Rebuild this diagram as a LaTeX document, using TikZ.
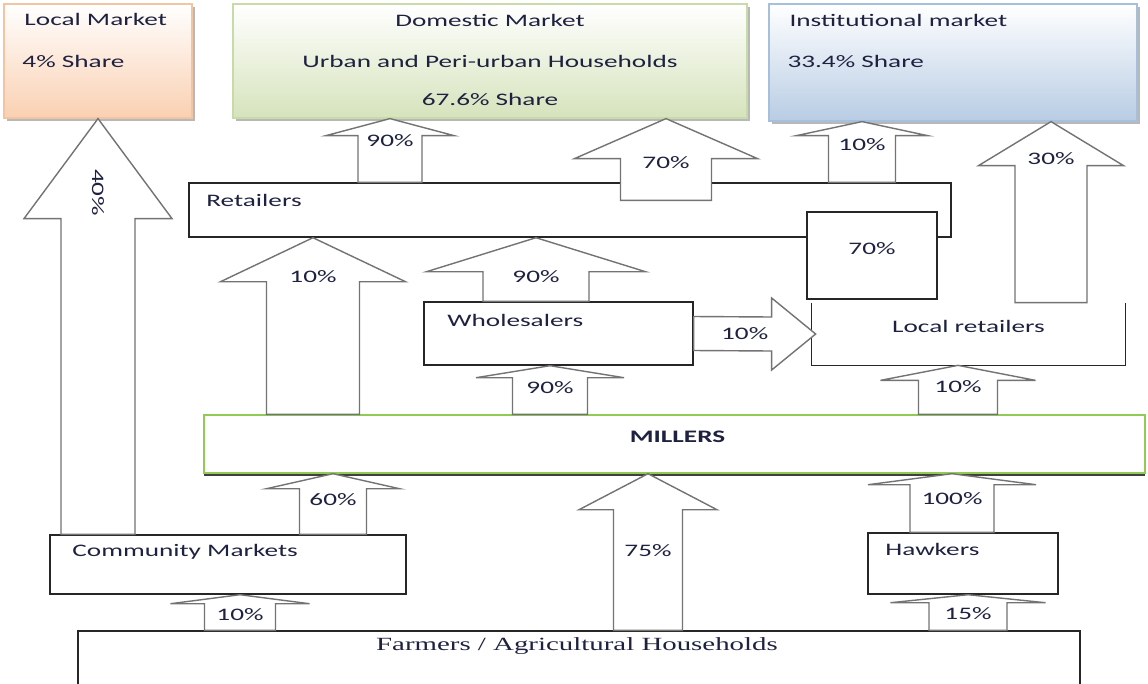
\documentclass[tikz,border=0pt]{standalone}
\usepackage{fontspec}
\setmainfont{Carlito}[FakeStretch=1.55]
\newfontfamily\farmfont{Liberation Serif}[FakeStretch=1.55]
\usepackage{xcolor}
\usepackage{graphicx}
\definecolor{TextNavy}{HTML}{1E2240}
\definecolor{LocalPeach}{HTML}{FAD0B2}
\definecolor{LocalEdge}{HTML}{F2C4A2}
\definecolor{DomGreen}{HTML}{D6E3BC}
\definecolor{DomEdge}{HTML}{C9DAAA}
\definecolor{InstBlue}{HTML}{B8CCE4}
\definecolor{InstEdge}{HTML}{A6BFDD}
\definecolor{MillGreen}{HTML}{8FCB55}
\usepackage{tikz}
\usetikzlibrary{calc,fit,shadows}

% upward block arrow: x, half shaft, half head, head length, from, to, name, label offset, label
\newcommand\blockup[9]{%
  \path (#1,0 |- #5) coordinate (#7-s) (#1,0 |- #6) coordinate (#7-t);
  \draw[blockarrow] ($(#7-s)+(-#2,0)$) -- ($(#7-t)+(-#2,#4)$) -- ($(#7-t)+(-#3,#4)$) -- (#7-t)
    -- ($(#7-t)+(#3,#4)$) -- ($(#7-t)+(#2,#4)$) -- ($(#7-s)+(#2,0)$) -- cycle;
  \node (#7-l) at ($(#7-t)+(0,#8)$) {#9};
}

\begin{document}
\begin{tikzpicture}[x=0.02cm, y=-0.02cm,
  every node/.style={font=\fontsize{10}{12}\selectfont, text=TextNavy, inner sep=1pt},
  box/.style={draw=black!85, line width=0.8pt, fill=white, inner sep=0pt},
  market/.style={draw, line width=0.7pt, inner sep=0pt, drop shadow={shadow xshift=1.5pt, shadow yshift=-1.5pt, fill=black!35, opacity=.8}},
  blockarrow/.style={draw=black!55, fill=white, line width=0.8pt}]
  \clip (0,0) rectangle (1148,683);
  % markets
  \node[market, draw=LocalEdge, top color=white, bottom color=LocalPeach, fit={(4,4) (192,118)}] (local) {};
  \node[market, draw=DomEdge, top color=white, bottom color=DomGreen, fit={(233,4) (747,118)}] (dom) {};
  \node[market, draw=InstEdge, top color=white, bottom color=InstBlue, fit={(769,4) (1137,121)}] (inst) {};
  % actors
  \node[box, fit={(189,183) (951,237)}] (retail) {};
  \node[box, fit={(807,212) (937,299)}] (box70) {};
  \node[box, fit={(424,302) (693,365)}] (whole) {};
  \node[inner sep=0pt, fit={(812,303) (1125,365)}] (localret) {};
  \draw[black!85, line width=0.8pt] (localret.north west) -- (localret.south west) -- (localret.south east) -- (localret.north east);
  \node[box, draw=MillGreen, drop shadow={shadow xshift=0pt, shadow yshift=-1.5pt, fill=black!75, opacity=1}, fit={(204,415) (1145,473)}] (millers) {};
  \node[box, fit={(50,535) (406,594)}] (comm) {};
  \node[box, fit={(868,533) (1058,594)}] (hawk) {};
  \node[box, fit={(78,631) (1080,700)}] (farm) {};
  % texts
  \node[anchor=west] (localt1) at ($(local.north west)+(19,16)$) {Local Market};
  \node[anchor=west] (localt2) at ($(local.north west)+(17,58)$) {4\% Share};
  \node (domt1) at ($(dom.north)+(0,17)$) {Domestic Market};
  \node (domt2) at ($(dom.north)+(0,58)$) {Urban and Peri-urban Households};
  \node (domt3) at ($(dom.north)+(0,96)$) {67.6\% Share};
  \node[anchor=west] (instt1) at ($(inst.north west)+(19,17)$) {Institutional market};
  \node[anchor=west] (instt2) at ($(inst.north west)+(17,58)$) {33.4\% Share};
  \node[anchor=west] (retailt) at ($(retail.north west)+(16,18)$) {Retailers};
  \node (box70t) at ($(box70.center)+(0,-7)$) {70\%};
  \node[anchor=west] (wholet) at ($(whole.north west)+(22,19)$) {Wholesalers};
  \node (localrett) at ($(localret.center)+(0,-8)$) {Local retailers};
  \node (millerst) at ($(millers.north)+(3,22)$) {\bfseries MILLERS};
  \node[anchor=west] (commt) at ($(comm.north west)+(21,18)$) {Community Markets};
  \node[anchor=west] (hawkt) at ($(hawk.north west)+(16,17)$) {Hawkers};
  \node (farmt) at ($(farm.north)+(-2,16)$) {\farmfont\fontsize{10.6}{12}\selectfont Farmers / Agricultural Households};
  % flows
  \blockup{98}{37}{74}{100}{comm.north}{local.south}{a40}{74}{\rotatebox{-90}{40\%}}
  \blockup{390}{32}{64}{17}{retail.north}{dom.south}{a90d}{22}{90\%}
  \coordinate (r70) at ($(retail.north)+(0,18)$);
  \blockup{666}{45.5}{91.5}{40}{r70}{dom.south}{a70d}{44}{70\%}
  \blockup{862}{33.5}{65.5}{14}{retail.north}{inst.south}{a10i}{23}{10\%}
  \blockup{1051}{36}{72.5}{44}{localret.north}{inst.south}{a30}{37}{30\%}
  \blockup{313}{46.5}{92.5}{44}{millers.north}{retail.south}{a10r}{39}{10\%}
  \blockup{536}{53}{109.5}{34}{whole.north}{retail.south}{a90r}{39}{90\%}
  \blockup{550}{37.5}{74}{12}{millers.north}{whole.south}{a90w}{22}{90\%}
  \blockup{958}{39.5}{77.5}{15}{millers.north}{localret.south}{a10l}{21}{10\%}
  \blockup{333}{33.5}{66.5}{15}{comm.north}{millers.south}{a60}{26}{60\%}
  \blockup{648}{34.5}{69}{36}{farm.north}{millers.south}{a75}{77}{75\%}
  \blockup{952}{42}{84}{11}{hawk.north}{millers.south}{a100}{25}{100\%}
  \blockup{240}{35.5}{69.5}{9}{farm.north}{comm.south}{a10c}{20}{10\%}
  \blockup{968}{39}{77.5}{8}{farm.north}{hawk.south}{a15}{19}{15\%}
  % wholesalers to local retailers
  \path (whole.east) coordinate (ra-s) (localret.west) coordinate (ra-t);
  \draw[blockarrow] ($(ra-s)+(0,-17)$) -- ($(ra-t)+(-40,-17)$) -- ($(ra-t)+(-40,-36)$) -- ($(ra-t)+(4,0)$)
    -- ($(ra-t)+(-40,36)$) -- ($(ra-t)+(-40,17)$) -- ($(ra-s)+(0,17)$) -- cycle;
  \node (ra-l) at ($(ra-s)+(51,0)$) {10\%};
\end{tikzpicture}
\end{document}
